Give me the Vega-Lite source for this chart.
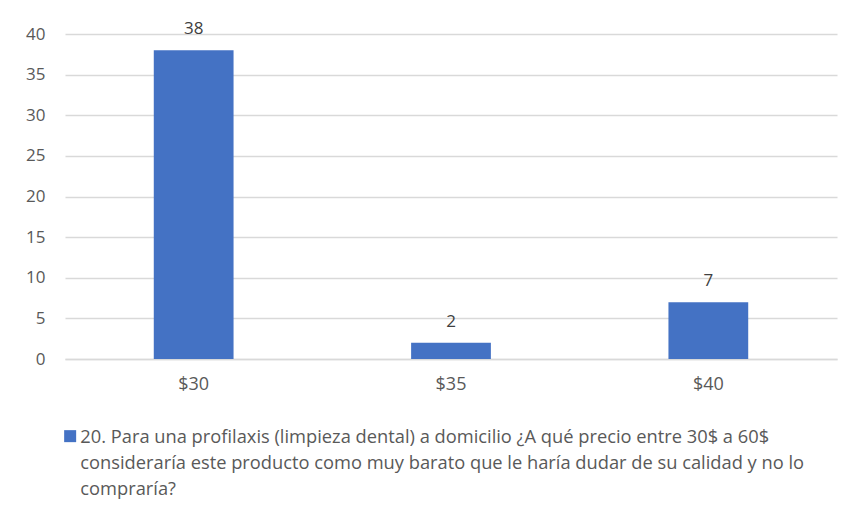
{
  "$schema": "https://vega.github.io/schema/vega-lite/v6.json",
  "width": 772,
  "height": 325,
  "autosize": {"type": "none"},
  "padding": {"left": 65, "top": 34, "right": 15, "bottom": 157},
  "background": "white",
  "config": {
    "view": {"stroke": null},
    "font": "Open Sans",
    "axis": {"labelFont": "Open Sans", "labelColor": "#595959", "labelFontSize": 17},
    "legend": {"labelFont": "Open Sans", "labelColor": "#595959", "labelFontSize": 18.3},
    "style": {"guide-label": {"lineHeight": 26, "dy": 7}}
  },
  "data": {
    "values": [
      {"precio": "$30", "n": 38, "serie": "20. Para una profilaxis (limpieza dental) a domicilio ¿A qué precio entre 30$ a 60$ consideraría este producto como muy barato que le haría dudar de su calidad y no lo compraría?"},
      {"precio": "$35", "n": 2, "serie": "20. Para una profilaxis (limpieza dental) a domicilio ¿A qué precio entre 30$ a 60$ consideraría este producto como muy barato que le haría dudar de su calidad y no lo compraría?"},
      {"precio": "$40", "n": 7, "serie": "20. Para una profilaxis (limpieza dental) a domicilio ¿A qué precio entre 30$ a 60$ consideraría este producto como muy barato que le haría dudar de su calidad y no lo compraría?"}
    ]
  },
  "encoding": {
    "x": {
      "field": "precio", "type": "nominal", "sort": null,
      "scale": {"paddingInner": 0.69, "paddingOuter": 0.345},
      "axis": {"title": null, "labelAngle": 0, "ticks": false, "domain": true, "domainColor": "#d9d9d9", "domainWidth": 1.5, "labelPadding": 9, "labelFontSize": 18}
    },
    "y": {
      "field": "n", "type": "quantitative",
      "scale": {"domain": [0, 40], "nice": false},
      "axis": {"title": null, "values": [0, 5, 10, 15, 20, 25, 30, 35, 40], "ticks": false, "domain": false, "gridColor": "#d9d9d9", "gridWidth": 1.5, "labelPadding": 20, "labelOffset": -7}
    }
  },
  "layer": [
    {
      "mark": {"type": "bar", "color": "#4472C4"},
      "encoding": {
        "color": {
          "field": "serie", "type": "nominal",
          "scale": {"range": ["#4472C4"]},
          "legend": {
            "title": null, "orient": "none", "legendX": -4, "legendY": 393,
            "padding": 0, "symbolType": "square", "symbolSize": 144, "symbolStrokeWidth": 0,
            "labelOffset": 1, "labelLimit": 0, "labelBaseline": "alphabetic",
            "labelExpr": "['20. Para una profilaxis (limpieza dental) a domicilio ¿A qué precio entre 30$ a 60$', 'consideraría este producto como muy barato que le haría dudar de su calidad y no lo', 'compraría?']"
          }
        }
      }
    },
    {
      "mark": {"type": "text", "baseline": "alphabetic", "dy": -16, "fontSize": 17, "color": "#404040", "font": "Open Sans"},
      "encoding": {"text": {"field": "n", "type": "quantitative"}}
    }
  ]
}
